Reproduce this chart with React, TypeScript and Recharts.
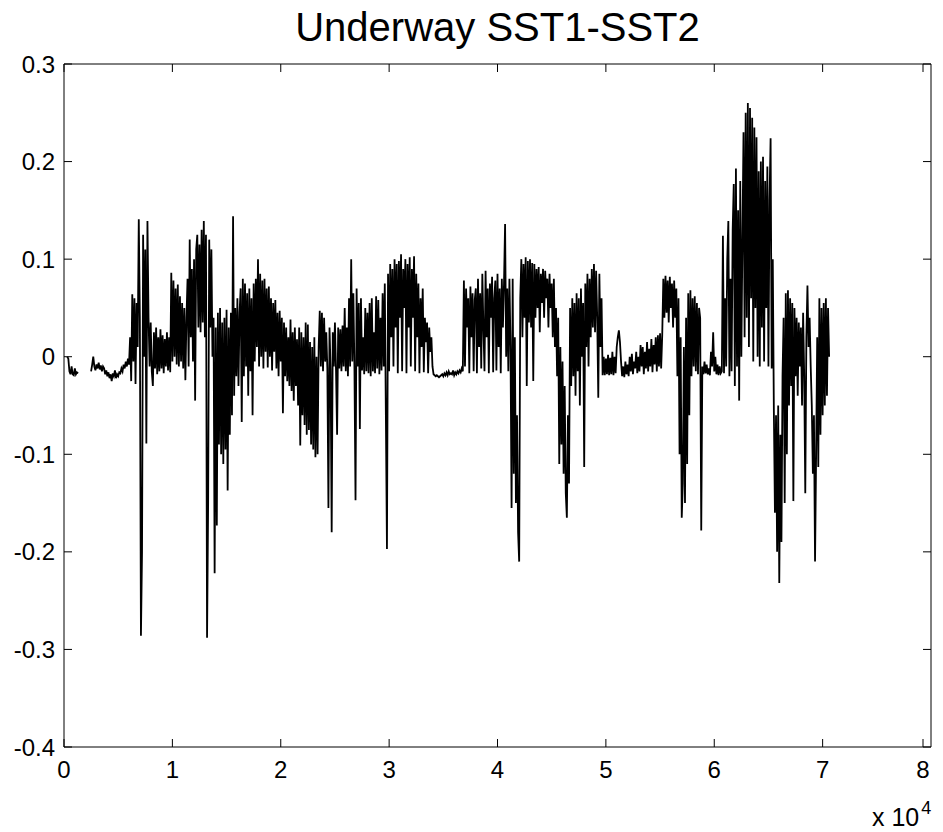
import { LineChart, Line, XAxis, YAxis, ReferenceLine } from "recharts";

const xTicks = [0, 10000, 20000, 30000, 40000, 50000, 60000, 70000, 80000];
const yTicks = [-0.4, -0.3, -0.2, -0.1, 0, 0.1, 0.2, 0.3];

// SST1-SST2 difference in thousandths of a degree, one sample every 100 records.
// Each entry: [first record number, values...]
const span0: [number, number[]][] = [
  [300, [0, -2, -15, -18, -10, -18, -19, -12, -18, -16, -17]],
  [2500, [-15, -8, 0, -10, -14, -8, -12, -6, -13, -9, -15, -10, -12, -18, -14, -20, -16, -22, -18, -25, -17, -20, -14, -22, -18, -20, -16, -17, -12, -15, -8, -12, -5, -10, -2, -8]],
  [6100, [20, -25, 64, -5, 60, -28, 55, 10]],
  [6900, [141, 40, -286, -200, 125, 0, 110, -89, 139]],
  [7800, [40, -10, 35, -15, -30, 25, -12, 30, -18, 20, -15, 28, -12, 22, -17, 18, -10, 25, -14, 20, -16]],
  [9900, [86, -5, 78, 0, 70, -8, 74, -10, 62, -5, 55, -12, 50, -24, 40]],
];

const span1: [number, number[]][] = [
  [11400, [80, -10, 120, 20, 90, -5, 100, -45, 110]],
  [12300, [125, 30, 115, 25, 130, 35, 139, 20, 125, -288, -150, 120, 30, 110, 0]],
  [13800, [40, -222, 30, -173, 45, -90, 50, -100, 35, -110, 40, -95, 48, -137, 30, -80, 45, -60, 144, -40, 50, -20, 60, -30, 45]],
  [16300, [70, -67, 80, -20, 75, -10, 65, -40, 70, -15, 60, -60, 75, -5]],
  [17700, [80, 10, 100, -10, 85, 0, 78, -12, 80, 5, 70, -11, 72, 0, 60, -14, 55, 5, 58, -12, 45]],
  [19800, [-20, 47, -5, 40, -58, 35, -20, 30, -25, 20, -30, 38, -35, 25, -45, 30, -30, 18]],
];

const span2: [number, number[]][] = [
  [21600, [-50, 30, -91, 25, -60, 20, -70, 35, -80, 33, -75, 15, -90, 10, -95, 20, -103, 0, -100]],
  [23500, [10, 47, -10, 45, -15, 40, -5, 25, -12, -155, 30, -14, -180, 25, -10, 35, -14, -80, 30, -12, 28, -15, 32, -10, 50, -15, 30, -20]],
  [26300, [60, -10, 100, -5, 65, -12, -147, 70, -10, 55, -74, 60, -14, 20, -18, 50, -15, 45]],
  [28100, [-17, 55, -20, 60, -15, 25, -17, 62, -12, 58, -18, 40, -14, 65, -10, 75, -60, -197]],
  [29900, [85, -15, 95, 20, 90, -10, 100, 30, 95, -17, 98, 40, 105, -15, 90, 50, 100, -17, 95, 30, 102, -10, 90, 40, 103]],
];

const span3: [number, number[]][] = [
  [32400, [-15, 85, 20, 75, -17, 60, 10, 70, -16, 40, 15, 35, -17, 30, 5, 20, -10]],
  [34100, [-18, -19, -20, -19, -20, -21, -20, -19, -18, -20, -17, -19, -16, -19, -15, -18, -17, -18, -14, -19, -16, -18, -15, -17, -14, -16, -12, -15]],
  [36900, [78, -10, 70, 30, 60, -17, 72, 20, 65, -15, 58, 70, -17, 80, 10, 65, -12, 85, 30, -15, 88, 20, 70, -17, 75, 40, 82, -16, 60, 78, -14, 85, 10, 70, -17, 80, 30, 75, 136, 0, 70, -15, 80]],
];

const span4: [number, number[]][] = [
  [41200, [10, -155, 80, -120, 20, -150, -60, -180, -210]],
  [42100, [60, 100, 20, 95, 40, 102, -30, 98, 35, 100, 30, 96, -25, 95, 40, 90, 50, 92, 25, 85, 55, 90, 40, 88, 60, 80, 30, 85, 50, 75, 20, 80, 10, 50]],
  [45500, [-20, 40, -110, 10, -90, -5, -120, -30, -140, -165, -60, -130]],
  [46700, [50, -30, 60, -20, 55, -40, 65, -15, 60, -50, 70, 0, 55, -113, 75, 10, 85, -10, 80]],
  [48600, [20, 90, 30, 95, 25, 88, 40, -42, 85, 10, 60]],
];

const span5: [number, number[]][] = [
  [49700, [-19, 0, -19, -2, -18, 2, -19, -1, -18, 5, -19, 0, -17, 10]],
  [51100, [20, 27, 15, -5, -20]],
  [51600, [-10, -21, -5, -18, -8, -20, 0, -15, 3, -18, -5, -12, 5, -17, 0, -15, 12, -10, 10, -18, 5, -12, 15, -15, 8, -10, 18, -16, 12, -8, 20, -15, 22, -10, 24, -12, 22]],
  [55300, [80, 40, 83, 45, 78, 35, 82, 50, 75, 30, 78, 40, 70, -20, 60, -100, 20, -165]],
  [57100, [-130, 10, -150, 40, -110, 65, -60, 68, -20, 60, -10, 62, -15, 55, -18, 50, 40, -178]],
  [58900, [-10, -18, -5, -17, -8, -18, -12, -19, 5, -10, 25, -15, 0, -18, -8, -19, -10, -17]],
];

const span6: [number, number[]][] = [
  [60700, [-15, 124, -17, 60, -10, 100, 139, -20, 80, -15, 130, 177, -30, 193, -10, 150, -45, 180, 0, 120]],
  [62700, [230, 20, 250, 40, 260, 10, 255, 60, 245, -5, 235, 50, 225]],
  [64000, [0, 190, -10, 200, 30, 205, -5, 180, 50, 195, -10, 160, 224, -12, 100]],
  [65500, [-55, -160, -60, -200, -50, -232, -80, -190, -20]],
  [66400, [40, -150, 65, -100, 68, -50, 60, -30, 55, -148, 50, -20, 40, -40, 35, -10, 30, -50, 45, -20, -140, 20, 73, 10, 40]],
  [68900, [-10, -50, -120, -60, -210, -100]],
  [69500, [20, -113, 60, -80, 50, -60, 55, -50, 60, -40, 50, 0]],
];

// the recorder dropped out between ~1400 and ~2400
const gapAt = [1900];

const rows: { x: number; y: number | null }[] = [];
[span0, span1, span2, span3, span4, span5, span6].forEach((span) =>
  span.forEach(([start, vals]) =>
    vals.forEach((v, i) => rows.push({ x: start + i * 100, y: v / 1000 }))
  )
);
gapAt.forEach((x) => rows.push({ x, y: null }));
rows.sort((a, b) => a.x - b.x);

const font = '"Liberation Sans", Arial, Helvetica, sans-serif';

// plot box (matlab style: box on, ticks pointing inward)
const W = 943;
const H = 832;
const margin = { top: 64, right: 12, bottom: 45, left: 4 };
const yAxisW = 60;
const xAxisH = 40;
const left = margin.left + yAxisW;
const right = W - margin.right;
const top = margin.top;
const bottom = H - margin.bottom - xAxisH;
const tickLen = 8;

const fmtY = (v: number) => (v === 0 ? "0" : String(Number(v.toFixed(1))));

const XTick = (props: any) => {
  const { x, y, payload } = props;
  return (
    <g>
      <line x1={x} x2={x} y1={bottom} y2={bottom - tickLen} stroke="#000" />
      <line x1={x} x2={x} y1={top} y2={top + tickLen} stroke="#000" />
      <text x={x} y={y} dy="0.71em" textAnchor="middle" fontSize={24} fontFamily={font} fill="#000">
        {String(payload.value / 10000)}
      </text>
    </g>
  );
};

const YTick = (props: any) => {
  const { x, y, payload } = props;
  return (
    <g>
      <line x1={left} x2={left + tickLen} y1={y} y2={y} stroke="#000" />
      <line x1={right - tickLen} x2={right} y1={y} y2={y} stroke="#000" />
      <text x={x} y={y} dy="0.355em" textAnchor="end" fontSize={24} fontFamily={font} fill="#000">
        {fmtY(payload.value)}
      </text>
    </g>
  );
};

export default function App() {
  return (
    <div style={{ position: "absolute", left: 0, top: 0, width: W, height: H, background: "#fff", fontFamily: font }}>
      <div style={{ position: "absolute", left, width: right - left, top: 5, textAlign: "center", fontSize: 40, color: "#000" }}>
        Underway SST1-SST2
      </div>
      <LineChart width={W} height={H} data={rows} margin={margin}>
        <XAxis
          dataKey="x"
          type="number"
          domain={[0, 80000]}
          ticks={xTicks}
          tick={<XTick />}
          tickLine={false}
          tickSize={0}
          tickMargin={14}
          height={xAxisH}
          stroke="#000"
          allowDataOverflow
        />
        <YAxis
          type="number"
          domain={[-0.4, 0.3]}
          ticks={yTicks}
          tick={<YTick />}
          tickLine={false}
          tickSize={0}
          tickMargin={9}
          width={yAxisW}
          stroke="#000"
          allowDataOverflow
        />
        <ReferenceLine y={0.3} stroke="#000" strokeWidth={1} ifOverflow="extendDomain" />
        <ReferenceLine x={80000} stroke="#000" strokeWidth={1} ifOverflow="extendDomain" />
        <Line
          dataKey="y"
          type="linear"
          stroke="#000"
          strokeWidth={1.8}
          dot={false}
          isAnimationActive={false}
        />
      </LineChart>
      <div style={{ position: "absolute", left: 872, top: 803, fontSize: 25, color: "#000" }}>
        x 10<span style={{ fontSize: 18, position: "relative", top: -12, marginLeft: 2 }}>4</span>
      </div>
    </div>
  );
}
